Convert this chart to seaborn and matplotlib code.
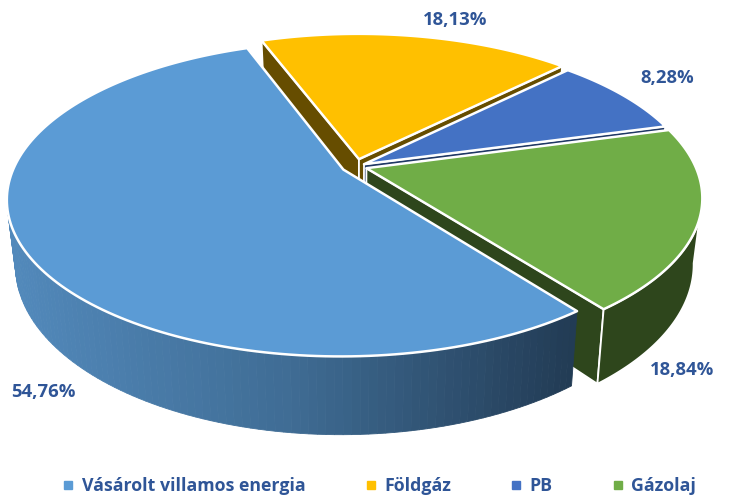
import numpy as np
import seaborn as sns
import matplotlib.pyplot as plt
from matplotlib.lines import Line2D

# chart data, clockwise order
labels = ["Vásárolt villamos energia", "Földgáz", "PB", "Gázolaj"]
values = [54.76, 18.13, 8.28, 18.84]
value_labels = ["54,76%", "18,13%", "8,28%", "18,84%"]

sns.set_theme(style="white")
plt.rcParams['font.family'] = ['Open Sans', 'DejaVu Sans']

top_colors = ["#5b9bd5", "#ffc000", "#4472c4", "#70ad47"]
side_colors = ["#223b54", "#7f6000", "#1f3864", "#2e461c"]
cut_colors = ["#223b54", "#664d00", "#1f3864", "#2e461c"]
text_color = "#2f5597"

# projection of the tilted disc, in picture pixels
cx, cy = 355.5, 166.5
rx, ry = 329, 151
tilt = 0.185
depth = 63.5
shrink = 0.975
start_angle = 307.5
explode = [0.042, 0.05, 0.03, 0.035]
draw_order = [1, 2, 3, 0]
label_pos = [(43, 392), (455, 20), (667, 78), (682, 370)]


def project(u, v, lower=False):
    w = 1 + tilt * v
    x = rx * u / w
    y = ry * v / w
    if lower:
        x = x * shrink
        y = y - depth / w
    return cx + x, cy - y


fig, ax = plt.subplots(figsize=(7.45, 4.95), dpi=100)
fig.subplots_adjust(left=0, right=1, top=1, bottom=0)
ax.set_xlim(0, 745)
ax.set_ylim(495, 0)
ax.axis("off")

spans = np.array(values) / sum(values) * 360
ends = start_angle - np.cumsum(spans)
starts = ends + spans

wall_grad = sns.blend_palette(["#5289bb", "#3f6c94", "#223b54"], 120)

for i in draw_order:
    a = np.radians(np.linspace(starts[i], ends[i], 160))
    mid = np.radians((starts[i] + ends[i]) / 2)
    ou, ov = explode[i] * np.cos(mid), explode[i] * np.sin(mid)
    u = ou + np.cos(a)
    v = ov + np.sin(a)
    x_top, y_top = project(u, v)
    x_low, y_low = project(u, v, lower=True)
    ax0, ay0 = project(ou, ov)
    ax1, ay1 = project(ou, ov, lower=True)

    # cut faces, only the ones turned towards the viewer
    for k in (0, -1):
        ex, ey = x_top[k] - ax0, y_top[k] - ay0
        side = ex * (y_top[80] - ay0) - ey * (x_top[80] - ax0)
        if side * ex < 0:
            ax.fill([ax0, x_top[k], x_low[k], ax1], [ay0, y_top[k], y_low[k], ay1],
                    color=cut_colors[i], ec="white", lw=1.3, joinstyle="round")

    # outer wall, front part of the rim only
    front = np.sin(a) < -tilt
    if front.any():
        xt, yt, xl, yl = x_top[front], y_top[front], x_low[front], y_low[front]
        if i == 0:
            for j in range(len(xt) - 1):
                t = np.clip((xt[j] - 8) / 570, 0, 1)
                c = wall_grad[int(t * 119)]
                ax.fill([xt[j], xt[j + 1], xl[j + 1], xl[j]],
                        [yt[j], yt[j + 1], yl[j + 1], yl[j]], color=c, lw=0.6)
        else:
            ax.fill(np.r_[xt, xl[::-1]], np.r_[yt, yl[::-1]],
                    color=side_colors[i], ec="white", lw=1.3)

    # top face
    ax.fill(np.r_[ax0, x_top], np.r_[ay0, y_top], fc=top_colors[i], ec="white",
            lw=1.8, joinstyle="round")

for txt, pos in zip(value_labels, label_pos):
    ax.text(pos[0], pos[1], txt, color=text_color, fontsize=13.3, fontweight="bold",
            ha="center", va="center")

handles = [Line2D([], [], ls="none", marker="s", ms=5.5, color=c) for c in top_colors]
# legend reads in the order of the data
ax.legend(handles, labels, ncol=4, frameon=False, loc="center", bbox_to_anchor=(0.507, 0.018),
          prop={"size": 12.8, "weight": "bold"}, labelcolor=text_color, columnspacing=3.18,
          handletextpad=0.25, handlelength=1.0, borderpad=0)

plt.savefig("out.png", dpi=100)
